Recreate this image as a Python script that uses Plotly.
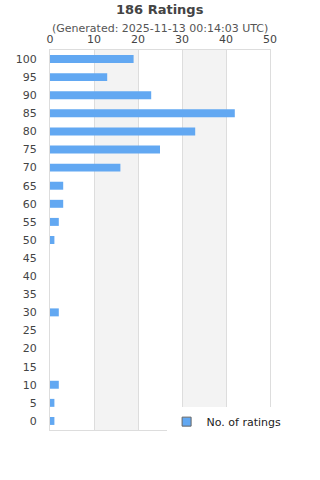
import plotly.graph_objects as go

categories = ["0", "5", "10", "15", "20", "25", "30", "35", "40", "45", "50",
              "55", "60", "65", "70", "75", "80", "85", "90", "95", "100"]
counts = [1, 1, 2, 0, 0, 0, 2, 0, 0, 0, 1, 2, 3, 3, 16, 25, 33, 42, 23, 13, 19]
x_ticks = [0, 10, 20, 30, 40, 50]
series_name = "No. of ratings"
title = "186 Ratings"
subtitle = "(Generated: 2025-11-13 00:14:03 UTC)"

bar_color = "#62a8f2"
font = "DejaVu Sans"

fig = go.Figure()
fig.add_trace(go.Bar(
    x=counts, y=categories, orientation="h",
    marker=dict(color=bar_color, line=dict(width=0)),
    showlegend=False, hoverinfo="x+y",
))
fig.add_trace(go.Scatter(
    x=[None], y=[None], mode="markers", name=series_name,
    marker=dict(symbol="square", size=9, color=bar_color,
                line=dict(color="#666666", width=1)),
    showlegend=True,
))

shapes = []
for a, b in [(10, 20), (30, 40)]:
    shapes.append(dict(type="rect", xref="x", yref="paper", x0=a, x1=b, y0=0, y1=1,
                       fillcolor="#f3f3f3", line=dict(width=0), layer="below"))

fig.update_layout(
    width=320, height=480,
    margin=dict(l=50, r=50, t=50, b=50),
    paper_bgcolor="white", plot_bgcolor="white",
    font=dict(family=font, color="#444444", size=11),
    bargap=0.56,
    shapes=shapes,
    showlegend=True,
    legend=dict(x=0.53, y=0.022, xanchor="left", yanchor="middle",
                bgcolor="white", font=dict(size=11, color="#222222"),
                itemwidth=30),
    annotations=[
        dict(text="<b>" + title + "</b>", x=0.5, xref="paper", yref="paper",
             y=(430 - 10) / 380, xanchor="center", yanchor="middle", showarrow=False,
             font=dict(size=13, color="#444444")),
        dict(text=subtitle, x=0.5, xref="paper", yref="paper",
             y=(430 - 29) / 380, xanchor="center", yanchor="middle",
             showarrow=False, font=dict(size=11, color="#555555")),
    ],
)
fig.update_xaxes(
    side="top", range=[0, 50], tickvals=x_ticks, ticktext=[str(v) for v in x_ticks],
    showgrid=True, gridcolor="#dddddd", gridwidth=1,
    showline=True, linecolor="#dddddd", mirror=True, zeroline=False,
    tickfont=dict(size=11, color="#444444"), ticks="", ticklabelstandoff=2,
    fixedrange=True,
)
fig.update_yaxes(
    type="category", categoryorder="array", categoryarray=categories,
    showgrid=False, showline=True, linecolor="#dddddd", mirror=True,
    tickfont=dict(size=11, color="#444444"), ticks="", ticklabelstandoff=10,
    fixedrange=True,
)

fig.write_html("out.html")
